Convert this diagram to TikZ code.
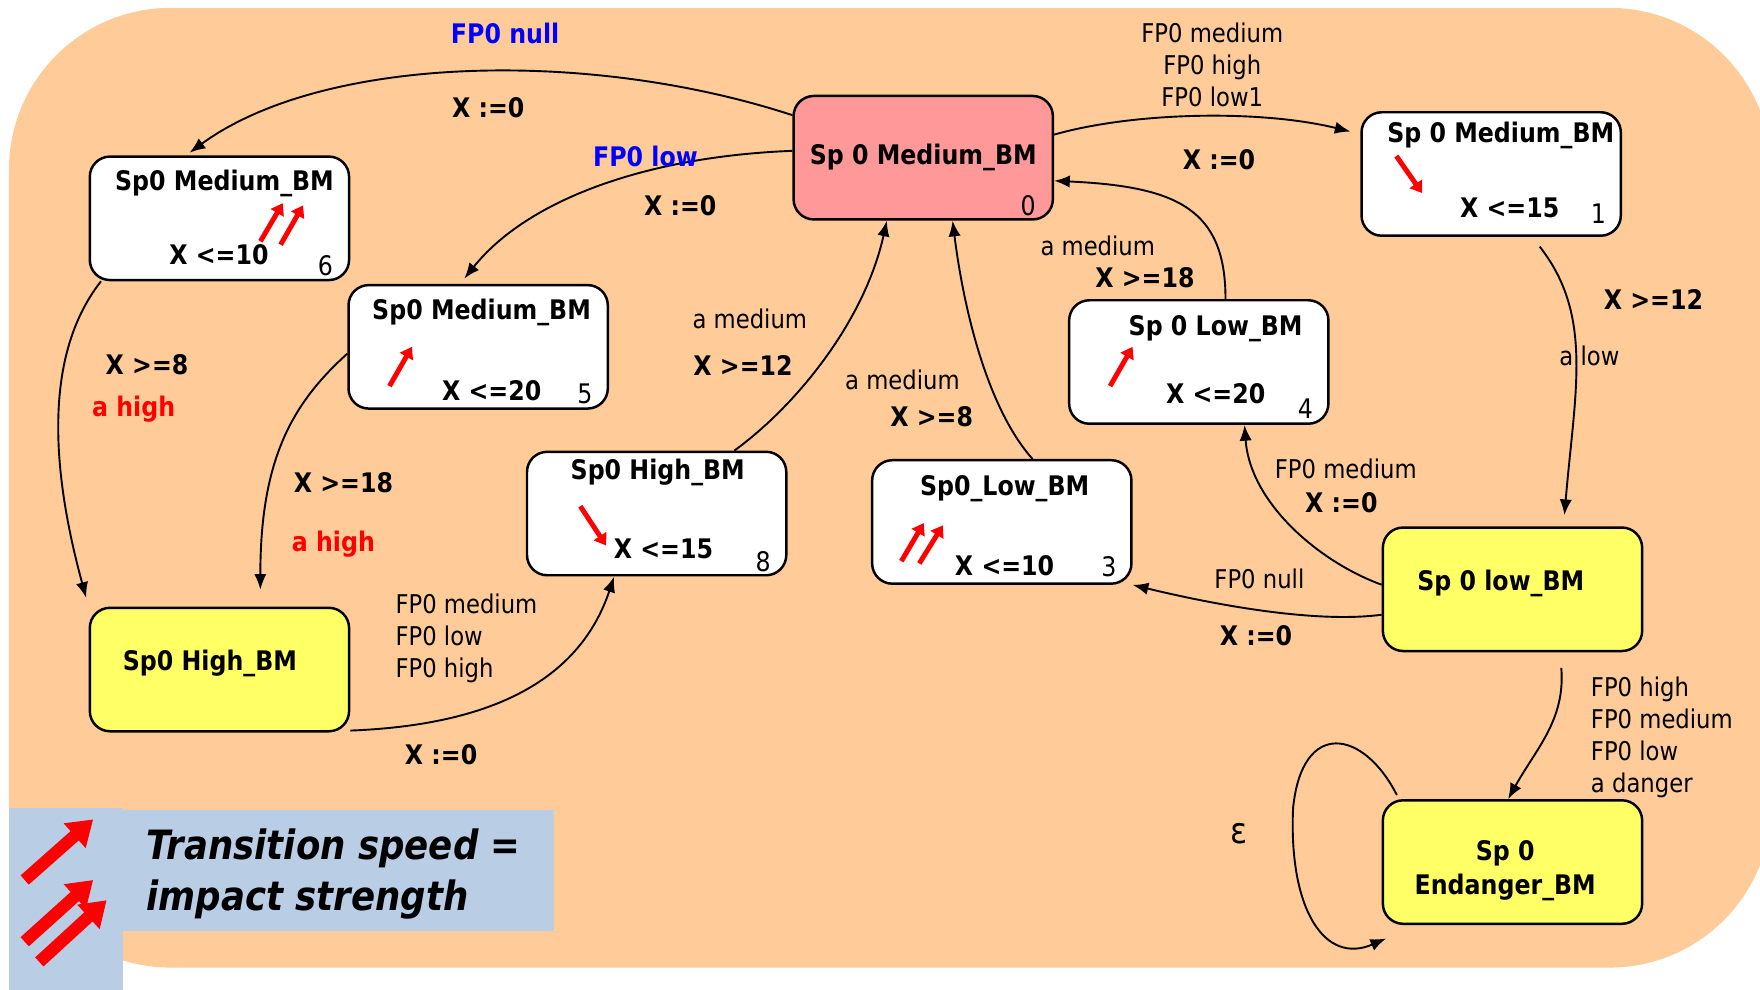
\documentclass[tikz,border=0pt]{standalone}
\usepackage{fontspec}
\setmainfont{DejaVu Sans}[FakeStretch=0.88]
\usetikzlibrary{arrows.meta}

\definecolor{bgorange}{RGB}{255,204,153}
\definecolor{statepink}{RGB}{255,153,153}
\definecolor{stateyellow}{RGB}{255,255,102}
\definecolor{legendblue}{RGB}{185,205,229}

\begin{document}
\begin{tikzpicture}[x=0.5pt, y=-0.5pt,
    state/.style = {draw, line width=1.1pt, rounded corners=9pt, fill=white,
                    minimum width=115.5pt, minimum height=55pt, inner sep=0pt,
                    align=center, font=\fontsize{12}{15}\selectfont\bfseries},
    trans/.style = {-{Latex[length=7pt,width=5.5pt]}, line width=0.85pt},
    tb/.style = {font=\fontsize{12}{14.25}\selectfont\bfseries, inner sep=0pt,
                 text height=8.75pt, text depth=0pt},
    tr/.style = {font=\fontsize{11.5}{14.25}\selectfont, inner sep=0pt,
                 text height=8.4pt, text depth=0pt},
    tbm/.style = {font=\fontsize{12}{15}\selectfont\bfseries, inner sep=0pt, align=center},
    trm/.style = {font=\fontsize{11.5}{14.25}\selectfont, inner sep=0pt},
    num/.style = {font=\fontsize{12}{14}\selectfont, inner sep=0pt},
    speed/.style = {red, line width=2.2pt, -{Triangle[length=5pt,width=6.5pt]}},
    bigspeed/.style = {red, line width=5.5pt, -{Triangle[length=11pt,width=14pt]}}]

\useasboundingbox (0,0) rectangle (1568,882);
\clip (0,0) rectangle (1568,882);

% background and legend
\fill[bgorange, rounded corners=72pt] (8,7) rectangle (1578,862);
\fill[legendblue] (8,720) rectangle (110,882);
\fill[legendblue] (110,722) rectangle (494,829);

\draw[bigspeed] (22,784) -- (83,730);
\draw[bigspeed] (22,839) -- (83,784);
\draw[bigspeed] (35,857) -- (95,802);
\node[font=\fontsize{18}{23}\selectfont\bfseries\itshape, align=left, anchor=west,
      inner sep=0pt] (legend) at (130,778.5) {Transition speed =\\impact strength};

% states
\node[state, fill=statepink]   (s0) at (822.5,140.5) {Sp 0 Medium\_BM};
\node[state]                   (s1) at (1328.5,155)  {};
\node[state]                   (s6) at (195.5,194.5) {};
\node[state]                   (s5) at (426,309)     {};
\node[state]                   (s4) at (1068,322.5)  {};
\node[state]                   (s8) at (585,457.5)   {};
\node[state]                   (s3) at (892.5,465)   {};
\node[state, fill=stateyellow] (sH) at (195.5,596.5) {};
\node[state, fill=stateyellow] (sL) at (1347.5,525)  {};
\node[state, fill=stateyellow] (sE) at (1347.5,768)  {};

% state contents
\node[tb] (s1t) at (1337,118) {Sp 0 Medium\_BM};
\node[tb] (s6t) at (200,161)  {Sp0 Medium\_BM};
\node[tb] (s5t) at (429,276)  {Sp0 Medium\_BM};
\node[tb] (s4t) at (1083,290) {Sp 0 Low\_BM};
\node[tb] (s8t) at (586,418)  {Sp0 High\_BM};
\node[tb] (s3t) at (895,433)  {Sp0\_Low\_BM};
\node[tb] (sHt) at (187,589)  {Sp0 High\_BM};
\node[tb] (sLt) at (1337,517) {Sp 0 low\_BM};
\node[tbm] (sEt) at (1341,775.5) {Sp 0\\Endanger\_BM};

\node[tb] (s1g) at (1345,185) {X <=15};
\node[tb] (s6g) at (195,227)  {X <=10};
\node[tb] (s5g) at (438,348)  {X <=20};
\node[tb] (s4g) at (1083,351) {X <=20};
\node[tb] (s8g) at (591,489)  {X <=15};
\node[tb] (s3g) at (895,504)  {X <=10};

\node[num] (s0n) at (916,183)  {0};
\node[num] (s1n) at (1424,190) {1};
\node[num] (s6n) at (290,237)  {6};
\node[num] (s5n) at (521,351)  {5};
\node[num] (s4n) at (1163,364) {4};
\node[num] (s8n) at (680,500)  {8};
\node[num] (s3n) at (988,505)  {3};

\draw[speed] (1244,139) -- (1267,172);
\draw[speed] (232,215) -- (252,181);
\draw[speed] (250,218) -- (270,183);
\draw[speed] (347,344) -- (367,309);
\draw[speed] (989,344) -- (1009,309);
\draw[speed] (517,451) -- (540,486);
\draw[speed] (803,500) -- (823,466);
\draw[speed] (819,502) -- (840,468);

% transitions
\draw[trans, shorten >=2pt] (s0.162) .. controls +(-180,-59) and +(123,-90) .. (s6.118);
\draw[trans, shorten >=3pt] (s0.177) .. controls +(-130,5) and +(60,-75) .. (s5.106);
\draw[trans, shorten >=4.5pt] (s0.10) .. controls +(70,-20) and +(-90,-22) .. (s1.163);
\draw[trans] (s4.67) .. controls +(0,-80) and +(110,5) .. (s0.350);
\draw[trans] (s3.64) .. controls +(-40,-45) and +(10,80) .. (s0.295);
\draw[trans] (s8.39) .. controls +(55,-40) and +(-20,90) .. (s0.240);
\draw[trans, shorten >=4pt] (s6.208) .. controls +(-55,70) and +(-30,-110) .. (sH.north west);
\draw[trans, shorten >=7.5pt] (s5.183) .. controls +(-50,45) and +(0,-130) .. (sH.57);
\draw[trans] (sH.335) .. controls +(130,-5) and +(-30,90) .. (s8.236);
\draw[trans, shorten <=5.5pt, shorten >=5pt] (s1.303) .. controls +(55,70) and +(10,-120) .. (sL.51);
\draw[trans] (sL.178) .. controls +(-55,-20) and +(5,70) .. (s4.306);
\draw[trans] (sL.191) .. controls +(-60,8) and +(70,17) .. (s3.south east);
\draw[trans, shorten <=7pt] (sL.307) .. controls +(5,60) and +(25,-45) .. (sE.94);
\draw[trans, shorten <=2pt] (sE.151) .. controls (1215,650) and (1160,640) .. (1152,720)
      .. controls (1148,810) and (1180,860) .. ([xshift=2pt,yshift=-6pt]sE.south west);

% transition labels
\node[tb, blue] (l1a) at (450,30)  {FP0 null};
\node[tb]       (l1b) at (435,96)  {X :=0};
\node[tb, blue] (l2a) at (575,140) {FP0 low};
\node[tb]       (l2b) at (606,183) {X :=0};
\node[trm, align=center] (l3a) at (1080,58) {FP0 medium\\FP0 high\\FP0 low1};
\node[tb]       (l3b) at (1086,142) {X :=0};
\node[tr]       (l4a) at (978,219)  {a medium};
\node[tb]       (l4b) at (1020,247) {X >=18};
\node[tr]       (l5a) at (804,339)  {a medium};
\node[tb]       (l5b) at (830,371)  {X >=8};
\node[tr]       (l6a) at (668,284)  {a medium};
\node[tb]       (l6b) at (662,326)  {X >=12};
\node[tb]       (l7a) at (131,325)  {X >=8};
\node[tb, red]  (l7b) at (119,362)  {a high};
\node[tb]       (l8a) at (306,430)  {X >=18};
\node[tb, red]  (l8b) at (297,483)  {a high};
\node[trm, align=left, anchor=west] (l9a) at (352,569) {FP0 medium\\FP0 low\\FP0 high};
\node[tb]       (l9b) at (393,672)  {X :=0};
\node[tb]       (l10a) at (1473,267) {X >=12};
\node[tr]       (l10b) at (1416,317) {a low};
\node[tr]       (l11a) at (1199,418) {FP0 medium};
\node[tb]       (l11b) at (1195,448) {X :=0};
\node[tr]       (l12a) at (1122,516) {FP0 null};
\node[tb]       (l12b) at (1119,566) {X :=0};
\node[trm, align=left, anchor=west] (l13a) at (1417,657) {FP0 high\\FP0 medium\\FP0 low\\a danger};
\node[font=\fontsize{16}{16}\selectfont] (l14) at (1104,743) {ε};

\end{tikzpicture}
\end{document}
